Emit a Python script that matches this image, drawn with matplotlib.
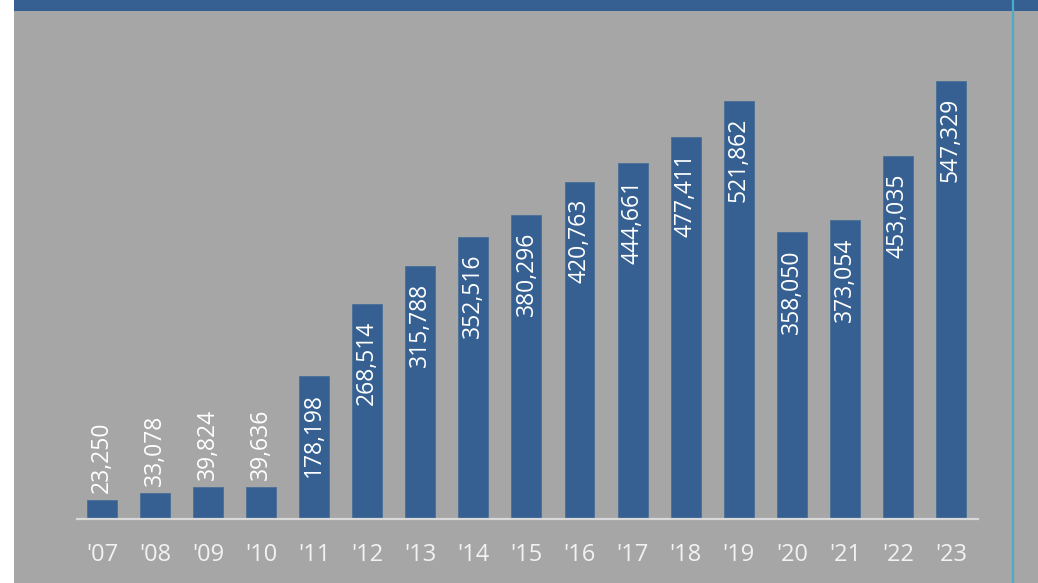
import matplotlib
matplotlib.use("Agg")
import matplotlib.pyplot as plt
from matplotlib.patches import Rectangle
from matplotlib.lines import Line2D

years = ["'07", "'08", "'09", "'10", "'11", "'12", "'13", "'14", "'15",
         "'16", "'17", "'18", "'19", "'20", "'21", "'22", "'23"]
values = [23250, 33078, 39824, 39636, 178198, 268514, 315788, 352516, 380296,
          420763, 444661, 477411, 521862, 358050, 373054, 453035, 547329]

bar_color = "#356091"
bg_gray = "#a6a6a6"

plt.rcParams['font.family'] = ['Open Sans', 'DejaVu Sans']

W, H = 1038, 583
fig = plt.figure(figsize=(W / 100, H / 100), dpi=100)
fig.patch.set_facecolor(bg_gray)

# white strip on the left, blue band on top, light blue vertical line on the right
fig.patches.append(Rectangle((0, 0), 14 / W, 1, transform=fig.transFigure,
                             facecolor="white", edgecolor="none", zorder=0))
fig.patches.append(Rectangle((14 / W, 1 - 11 / H), 1, 11 / H, transform=fig.transFigure,
                             facecolor=bar_color, edgecolor="none", zorder=0))
fig.lines.append(Line2D([1012.5 / W, 1012.5 / W], [0, 1], transform=fig.transFigure,
                        color="#4bacc6", lw=1.6, zorder=1))

# axes: left 77px, right 978px, bottom at baseline y=519px, top 12px
ax = fig.add_axes([77 / W, (H - 519) / H, (978 - 77) / W, (519 - 12) / H])
ax.set_facecolor("none")

x = list(range(len(values)))
bars = ax.bar(x, values, width=0.565, color=bar_color, edgecolor="#4a6f99", linewidth=0.6)

ax.set_xlim(-0.47, 16.51)
ax.set_ylim(0, 547329 * 507 / 438)

for sp in ["top", "right", "left"]:
    ax.spines[sp].set_visible(False)
ax.spines["bottom"].set_color("#d9d9d9")
ax.spines["bottom"].set_linewidth(1.6)
ax.set_yticks([])
ax.set_xticks(x)
ax.set_xticklabels(years)
ax.tick_params(axis="x", length=0, pad=17, labelsize=17, labelcolor="#f2f2f2")

for xi, v in zip(x, values):
    label = f"{v:,}"
    if v > 100000:
        ax.annotate(label, (xi, v), xytext=(0, -12), textcoords="offset points",
                    rotation=90, ha="center", va="top", color="white", fontsize=16.5)
    else:
        ax.annotate(label, (xi, v), xytext=(0, 5), textcoords="offset points",
                    rotation=90, ha="center", va="bottom", color="white", fontsize=16.5)

fig.savefig("out.png", dpi=100, facecolor=fig.get_facecolor())
